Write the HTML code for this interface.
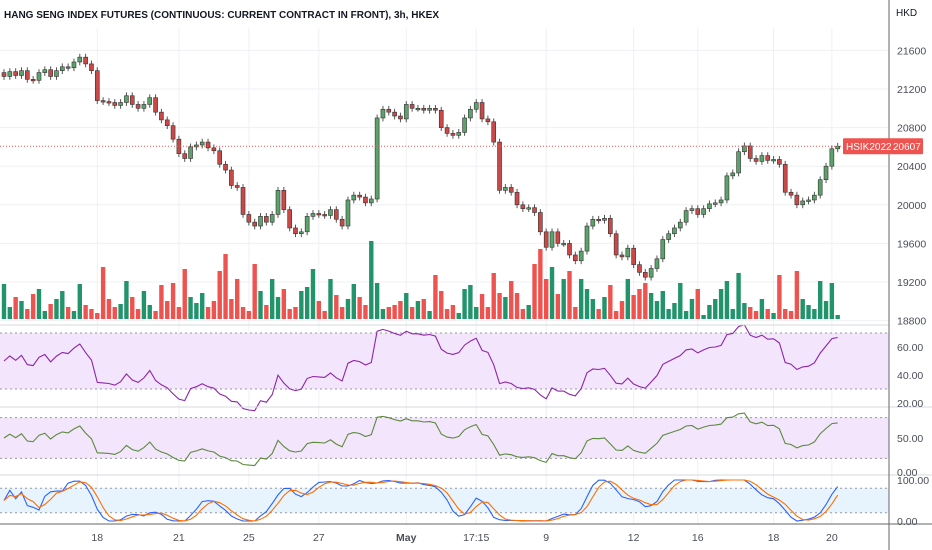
<!DOCTYPE html>
<html><head><meta charset="utf-8"><style>
html,body{margin:0;padding:0;background:#fff;}
svg{display:block;font-family:"Liberation Sans",sans-serif;}
</style></head><body>
<svg id="chart" width="932" height="550" viewBox="0 0 932 550" xmlns="http://www.w3.org/2000/svg">
<rect x="0" y="0" width="932" height="550" fill="#fff"/>
<g id="grid"></g>
<g id="panes"></g>
<g id="vol"></g>
<g id="candles"></g>
<g id="ind"></g>
<g id="axes"></g>
<text x="4" y="18" font-size="10" font-weight="bold" fill="#131722">HANG SENG INDEX FUTURES (CONTINUOUS: CURRENT CONTRACT IN FRONT), 3h, HKEX</text>
<text x="896" y="16" font-size="10" fill="#131722">HKD</text>
</svg>
<script>
const closes=[21330,21380,21340,21390,21300,21290,21370,21400,21330,21390,
21430,21420,21480,21530,21460,21390,
21080,21070,21060,21030,21060,21130,21040,21000,21040,21110,20960,20880,20820,20680,
20530,20480,20600,20620,20650,20590,20560,20420,20360,20200,
20180,19900,19820,19780,19880,19820,19900,20150,19950,19760,
19700,19720,19880,19910,19900,19890,19950,19850,19780,20050,
20100,20080,20020,20060,20900,20990,20960,20920,20890,21040,
21000,21000,20980,21000,20980,20800,20740,20720,20750,20900,
20990,21060,20890,20860,20650,20150,20180,20130,20000,19960,
19970,19920,19720,19560,19720,19600,19600,19480,19420,19520,
19780,19850,19840,19860,19700,19480,19460,19550,19380,19300,
19250,19340,19440,19640,19700,19760,19820,19940,19960,19900,
19960,20010,20020,20050,20300,20330,20550,20610,20480,20450,
20510,20460,20470,20420,20130,20100,20000,20040,20050,20100,
20260,20400,20580,20607];
const volumes=[35,12,22,18,10,25,30,8,15,20,
28,12,8,35,14,10,6,52,20,12,
15,38,22,10,28,14,8,34,18,36,
12,50,22,16,26,12,18,48,65,20,
40,12,8,55,28,14,40,22,30,10,
12,28,32,50,18,8,40,24,12,20,
35,22,14,78,36,10,12,14,18,26,
12,18,20,8,44,28,10,14,6,30,
34,12,25,12,46,26,22,38,26,10,
14,55,70,40,52,25,40,48,12,40,
30,20,10,22,34,8,18,40,24,30,
36,26,18,28,10,16,36,8,20,30,
4,14,20,30,38,10,46,16,12,8,
20,10,6,44,10,8,48,20,14,10,
38,18,36,4];
const priceTicks=[21600,21200,20800,20400,20000,19600,19200,18800];
const dateLabels=["18","21","25","27","May","17:15","9","12","16","18","20"];
const dateBars=[16,30,42,54,69,81,93,108,119,132,142];
const lastPrice=20607;
const wick=35;

const NS="http://www.w3.org/2000/svg";
function mk(tag,attrs,parent){const e=document.createElementNS(NS,tag);for(const k in attrs)e.setAttribute(k,attrs[k]);parent.appendChild(e);return e;}
const X=i=>4+i*5.83;
const Y=p=>89+(21200-p)*0.0965;
const PLOT_R=889;
const grid=document.getElementById('grid'),panes=document.getElementById('panes'),vol=document.getElementById('vol'),cg=document.getElementById('candles'),ind=document.getElementById('ind'),axes=document.getElementById('axes');

priceTicks.forEach(p=>{const l=mk('line',{x1:0,x2:PLOT_R,y1:Y(p),y2:Y(p),stroke:'#eef0f4','stroke-width':1},grid);


const t=mk('text',{x:897,y:Y(p)+4,'font-size':10.5,fill:'#4a4e59'},axes);t.textContent=p;

});
dateBars.forEach((b,k)=>{const l=mk('line',{x1:X(b),x2:X(b),y1:28,y2:524,stroke:'#eef0f4','stroke-width':1},grid);


const t=mk('text',{x:X(b),y:541,'font-size':10.5,fill:'#4a4e59','text-anchor':'middle','font-weight':dateLabels[k]==='May'?'bold':'normal'},axes);t.textContent=dateLabels[k];

});

[[0,325,889,325],[0,407,932,407],[0,475,932,475],[0,524,932,524],[889,0,889,550]].forEach(a=>{const l=mk('line',{x1:a[0],y1:a[1],x2:a[2],y2:a[3],stroke:(a[1]===524||a[0]===889)?'#666':'#d6d8de','stroke-width':1},axes);

});

const volMax=80;
volumes.forEach((v,i)=>{const up=closes[i]>=(i?closes[i-1]:closes[i]);const h=v/volMax*80;
const r=mk('rect',{x:X(i)-2.2,y:319-h,width:4.4,height:h,fill:up?'#22946b':'#ef5350'},vol);

});

closes.forEach((c,i)=>{const o=i?closes[i-1]:c+40;const up=c>=o;const hi=Math.max(o,c)+wick,lo=Math.min(o,c)-wick;
const w=mk('line',{x1:X(i),x2:X(i),y1:Y(hi),y2:Y(lo),stroke:'#555','stroke-width':1},cg);


const top=Y(Math.max(o,c)),h=Math.max(1.5,Y(Math.min(o,c))-top);
const b=mk('rect',{x:X(i)-2,y:top,width:4,height:h,fill:up?'#5ba36b':'#c94848',stroke:'#333','stroke-width':0.6},cg);

});

const ly=Y(lastPrice);
const pl=mk('line',{x1:0,x2:PLOT_R,y1:ly,y2:ly,stroke:'#ef5350','stroke-width':1,'stroke-dasharray':'1,2'},axes);


const lb=mk('rect',{x:843,y:ly-8,width:80,height:16,fill:'#ef5350',rx:1},axes);


const lt1=mk('text',{x:846,y:ly+4,'font-size':10,fill:'#fff'},axes);lt1.textContent='HSIK2022';


const lt2=mk('text',{x:893,y:ly+4,'font-size':10,fill:'#fff'},axes);lt2.textContent=lastPrice;



function rsi(arr,n){const out=[];let ag=25,al=25;for(let i=0;i<arr.length;i++){if(i===0){out.push(50);continue;}const d=arr[i]-arr[i-1];const g=Math.max(d,0),l=Math.max(-d,0);ag=(ag*(n-1)+g)/n;al=(al*(n-1)+l)/n;out.push(al===0?100:100-100/(1+ag/al));}return out;}
const r14=rsi(closes,14);
const r7=rsi(closes,9);
function stoch(a,n){return a.map((v,i)=>{const s=a.slice(Math.max(0,i-n+1),i+1);const mn=Math.min(...s),mx=Math.max(...s);return mx===mn?50:(v-mn)/(mx-mn)*100;});}
function sma(a,n){return a.map((v,i)=>{const s=a.slice(Math.max(0,i-n+1),i+1);return s.reduce((p,q)=>p+q,0)/s.length;});}
const K=sma(stoch(r14,14),3),D=sma(K,3);

const rsiY=v=>347+(60-v)*1.4;
const p2Y=v=>472-v*0.68;
const stY=v=>521-v*0.41;
function band(y1,y2,fill,name){const r=mk('rect',{x:0,y:y1,width:PLOT_R,height:y2-y1,fill:fill},panes);
[y1,y2].forEach(y=>{const l=mk('line',{x1:0,x2:PLOT_R,y1:y,y2:y,stroke:'#9598a1','stroke-width':1,'stroke-dasharray':'2,3'},panes);});}
band(rsiY(70),rsiY(30),'#f3e5fc','rsi-band');
band(p2Y(80),p2Y(20),'#f3e5fc','oscillator-band');
band(stY(80),stY(20),'#e8f4fd','stoch-band');
function line(a,f,col,name){const d=a.map((v,i)=>(i?'L':'M')+X(i).toFixed(1)+','+f(v).toFixed(1)).join('');const p=mk('path',{d:d,fill:'none',stroke:col,'stroke-width':1.1},ind);}
line(r14,rsiY,'#8e24aa','rsi-line');
line(r7,p2Y,'#5b8a3c','oscillator-line');
line(K,stY,'#2962ff','stoch-k-line');
line(D,stY,'#ff6d00','stoch-d-line');
[[60,rsiY],[40,rsiY],[20,rsiY]].forEach(a=>{const t=mk('text',{x:897,y:a[1](a[0])+4,'font-size':10.5,fill:'#4a4e59'},axes);t.textContent=a[0].toFixed(2);});
[[50,p2Y],[0,p2Y]].forEach(a=>{const t=mk('text',{x:897,y:a[1](a[0])+4,'font-size':10.5,fill:'#4a4e59'},axes);t.textContent=a[0].toFixed(2);});
[[100,stY],[0,stY]].forEach(a=>{const t=mk('text',{x:897,y:a[1](a[0])+4,'font-size':10.5,fill:'#4a4e59'},axes);t.textContent=a[0].toFixed(2);});
</script>
</body></html>
